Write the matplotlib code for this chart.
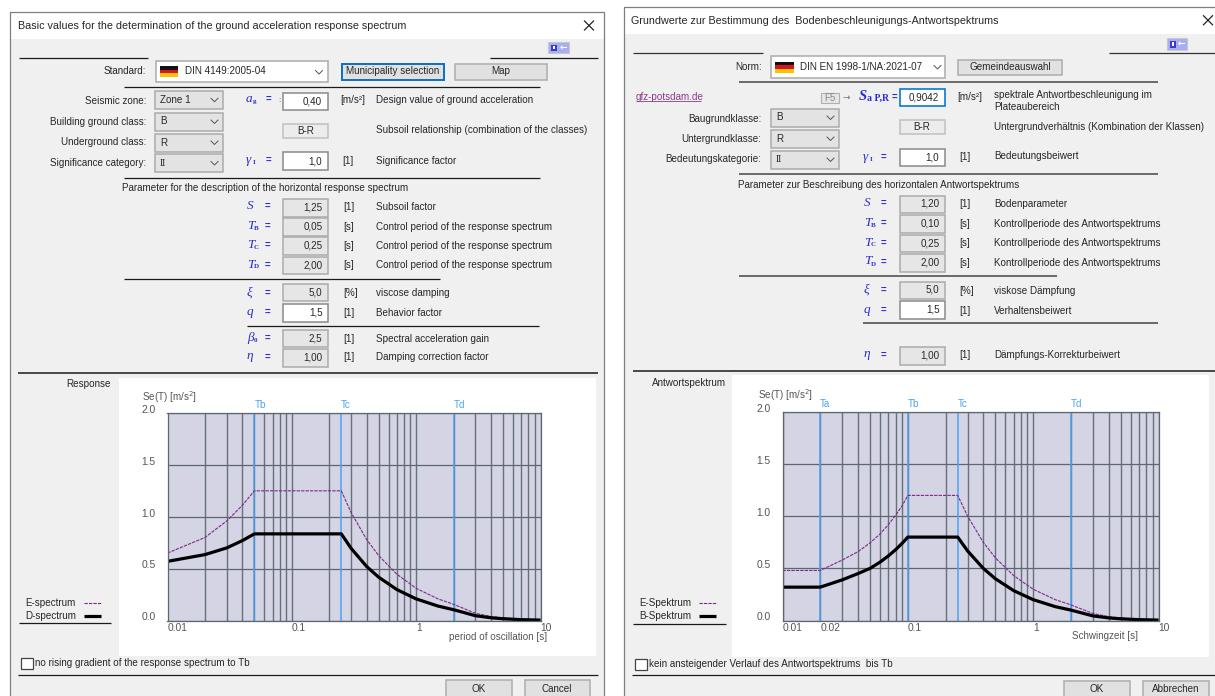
import matplotlib
matplotlib.use('Agg')
import matplotlib.pyplot as plt
from matplotlib.patches import Rectangle
from matplotlib.ticker import LogLocator, NullFormatter
from matplotlib.transforms import ScaledTranslation

# spectrum values
period_left = [0.01, 0.02, 0.03, 0.04, 0.05, 0.25, 0.3, 0.4, 0.5, 0.7, 1, 1.5, 2, 3, 4, 5, 7, 10]
e_left = [0.65, 0.80, 0.96, 1.11, 1.25, 1.25, 1.04, 0.78, 0.625, 0.446, 0.31, 0.208, 0.156, 0.069, 0.039, 0.025, 0.013, 0.006]
d_left = [0.57, 0.635, 0.70, 0.77, 0.835, 0.835, 0.695, 0.52, 0.417, 0.298, 0.208, 0.139, 0.104, 0.046, 0.026, 0.017, 0.008, 0.004]

period_right = [0.01, 0.02, 0.03, 0.04, 0.05, 0.06, 0.07, 0.08, 0.09, 0.1, 0.25, 0.3, 0.4, 0.5, 0.7, 1, 1.5, 2, 3, 4, 5, 7, 10]
e_right = [0.48, 0.48, 0.58, 0.66, 0.745, 0.83, 0.92, 1.01, 1.10, 1.20, 1.20, 1.0, 0.75, 0.60, 0.43, 0.30, 0.20, 0.15, 0.067, 0.0375, 0.024, 0.012, 0.006]
d_right = [0.32, 0.32, 0.39, 0.45, 0.50, 0.56, 0.62, 0.68, 0.74, 0.80, 0.80, 0.667, 0.50, 0.40, 0.286, 0.20, 0.133, 0.10, 0.044, 0.025, 0.016, 0.008, 0.004]

marks_left = {'Tb': 0.05, 'Tc': 0.25, 'Td': 2.0}
marks_right = {'Ta': 0.02, 'Tb': 0.1, 'Tc': 0.25, 'Td': 2.0}
xticks_left = [0.01, 0.1, 1, 10]
xlabels_left = ['0.01', '0.1', '1', '10']
xticks_right = [0.01, 0.02, 0.1, 1, 10]
xlabels_right = ['0.01', '0.02', '0.1', '1', '10']
yticks = [0.0, 0.5, 1.0, 1.5, 2.0]
ylabels = ['0.0', '0.5', '1.0', '1.5', '2.0']

# parameter rows: symbol, subscript, value, unit, description
rows_left = [
    ('S', '', '1,25', '[1]', 'Subsoil factor'),
    ('T', 'B', '0,05', '[s]', 'Control period of the response spectrum'),
    ('T', 'C', '0,25', '[s]', 'Control period of the response spectrum'),
    ('T', 'D', '2,00', '[s]', 'Control period of the response spectrum'),
    ('ξ', '', '5,0', '[%]', 'viscose damping'),
    ('q', '', '1,5', '[1]', 'Behavior factor'),
    ('β', '0', '2,5', '[1]', 'Spectral acceleration gain'),
    ('η', '', '1,00', '[1]', 'Damping correction factor'),
]
rows_right = [
    ('S', '', '1,20', '[1]', 'Bodenparameter'),
    ('T', 'B', '0,10', '[s]', 'Kontrollperiode des Antwortspektrums'),
    ('T', 'C', '0,25', '[s]', 'Kontrollperiode des Antwortspektrums'),
    ('T', 'D', '2,00', '[s]', 'Kontrollperiode des Antwortspektrums'),
    ('ξ', '', '5,0', '[%]', 'viskose Dämpfung'),
    ('q', '', '1,5', '[1]', 'Verhaltensbeiwert'),
    ('η', '', '1,00', '[1]', 'Dämpfungs-Korrekturbeiwert'),
]

W, H = 1215, 696
FONT = 'Liberation Sans'
TXT = '#262626'
BLUE = '#2b2bd0'
GRID = '#5d686e'
VGRID = '#667279'
MARK = '#4aa3f0'
PLOT_BG = '#d4d4e4'
E_COL = '#7d2a86'
DASH = (0, (3, 1))


def label(ui, x, y, s, ha='left', size=7.1, color=TXT, family=FONT, **kw):
    ui.text(x, y, s, ha=ha, va='center', fontsize=size, color=color, family=family, **kw)


def hline(ui, x0, x1, y, lw=0.9, color='#1a1a1a'):
    ui.plot([x0, x1], [y, y], color=color, lw=lw, solid_capstyle='butt')


def box(ui, x0, x1, y0, y1, fc='#e6e6e6', ec='#ababab', lw=1.1):
    ui.add_patch(Rectangle((x0, y0), x1 - x0, y1 - y0, fc=fc, ec=ec, lw=lw))


def combo(ui, x0, x1, y0, y1, s, fc='#e3e3e3', ec='#ababab'):
    box(ui, x0, x1, y0, y1, fc=fc, ec=ec)
    # the roman numeral has serifs in the dialog font
    label(ui, x0 + 5, (y0 + y1) / 2, s, family='Liberation Serif' if s == 'II' else FONT)
    cx, cy = x1 - 8, (y0 + y1) / 2
    ui.plot([cx - 3.5, cx, cx + 3.5], [cy - 1.5, cy + 2, cy - 1.5], color='#555555', lw=0.7)


def button(ui, x0, x1, y0, y1, s, ec='#adadad', lw=1.1):
    box(ui, x0, x1, y0, y1, fc='#e1e1e1', ec=ec, lw=lw)
    label(ui, (x0 + x1) / 2, (y0 + y1) / 2, s, ha='center')


def flag(ui, x0, x1, y0, y1):
    h = (y1 - y0) / 3
    for i, c in enumerate(['#111111', '#d8141c', '#f6c400']):
        ui.add_patch(Rectangle((x0, y0 + i * h), x1 - x0, h, fc=c, ec='none'))


def icon(ui, x0, x1, y0, y1):
    box(ui, x0, x1, y0, y1, fc='#a9aef0', ec='#c8c8c8', lw=0.8)
    ui.add_patch(Rectangle((x0 + 3, y0 + 2.5), 6, y1 - y0 - 5, fc='#3a3ad0', ec='none'))
    ui.add_patch(Rectangle((x0 + 5, y0 + 4), 2, y1 - y0 - 8, fc='white', ec='none'))
    ui.text(x0 + 15, (y0 + y1) / 2, '←', color='white', fontsize=6.5, ha='center', va='center',
            family='DejaVu Sans', fontweight='bold')


def symbol(ui, x, y, s, sub=''):
    ui.text(x, y, s, color=BLUE, fontsize=9.5, style='italic', family='Liberation Serif', ha='left', va='center')
    if sub:
        ui.text(x + 6.5, y + 2.5, sub, color=BLUE, fontsize=5, family='Liberation Serif',
                fontweight='bold', ha='left', va='center')


def param_rows(ui, rows, ys, x_sym, x_eq, bx0, bx1, x_unit, x_desc, white=('q',)):
    for (s, sub, val, unit, desc), (y, y0, y1) in zip(rows, ys):
        symbol(ui, x_sym, y - 1, s, sub)
        label(ui, x_eq, y - 1, '=', color=BLUE, fontweight='bold', size=7)
        if s in white:
            box(ui, bx0, bx1, y0, y1, fc='white', ec='#8a8a8a')
        else:
            box(ui, bx0, bx1, y0, y1)
        label(ui, bx1 - 5, (y0 + y1) / 2, val, ha='right')
        label(ui, x_unit, y, unit)
        label(ui, x_desc, y, desc)


def dialog(ui, x0, x1, y0, ybar, title, x_title, x_close):
    ui.add_patch(Rectangle((x0 + 0.5, y0 + 0.5), x1 - x0 - 1, ybar - y0, fc='white', ec='none', zorder=0.5))
    ui.add_patch(Rectangle((x0, ybar), x1 - x0, H - ybar + 2, fc='#f0f0f0', ec='none', zorder=0.5))
    ui.add_patch(Rectangle((x0, y0), x1 - x0, H - y0 + 2, fc='none', ec='#7f7f7f', lw=0.9, zorder=0.6))
    label(ui, x_title, (y0 + ybar) / 2 + 0.5, title, size=7.75)
    yc = (y0 + ybar) / 2
    ui.plot([x_close - 4.5, x_close + 4.5], [yc - 4.5, yc + 4.5], color='#222222', lw=0.9)
    ui.plot([x_close - 4.5, x_close + 4.5], [yc + 4.5, yc - 4.5], color='#222222', lw=0.9)


def spectrum(fig, box_px, period, e_vals, d_vals, marks, xticks, xlabels):
    x0, x1, top, bottom = box_px
    ax = fig.add_axes([x0 / W, 1 - bottom / H, (x1 - x0) / W, (bottom - top) / H])
    ax.set_facecolor(PLOT_BG)
    ax.set_xscale('log')
    ax.set_xlim(0.01, 10)
    ax.set_ylim(0, 2)
    ax.xaxis.set_minor_locator(LogLocator(base=10, subs=range(2, 10), numticks=12))
    ax.xaxis.set_minor_formatter(NullFormatter())
    ax.set_xticks(xticks, xlabels, ha='left')
    ax.set_yticks(yticks, ylabels)
    ax.tick_params(axis='both', which='both', length=0, labelsize=7.4, labelcolor='#555555')
    ax.tick_params(axis='x', pad=2)
    ax.tick_params(axis='y', pad=8.5)
    ax.grid(True, axis='x', which='both', color=VGRID, lw=1.0)
    ax.grid(True, axis='y', which='major', color=GRID, lw=0.9)
    ax.set_axisbelow(True)
    for sp in ax.spines.values():
        sp.set_color(GRID)
        sp.set_linewidth(0.9)
    for lab in ax.get_yticklabels() + ax.get_xticklabels():
        lab.set_family(FONT)
    for lab in ax.get_yticklabels():
        lab.set_transform(lab.get_transform() + ScaledTranslation(0, 3 / 72, fig.dpi_scale_trans))
    for name, t in marks.items():
        ax.axvline(t, color=MARK, lw=1.1)
        ax.text(t, 1.04, name, transform=ax.get_xaxis_transform(), color=MARK, fontsize=7.1,
                family=FONT, ha='left', va='center')
    ax.plot(period, e_vals, color=E_COL, lw=0.8, ls=DASH)
    ax.plot(period, d_vals, color='black', lw=2.3, solid_joinstyle='round', solid_capstyle='butt')
    return ax


def legend_block(ui, x_right, x0, x1, y_e, y_d, e_name, d_name):
    label(ui, x_right, y_e, e_name, ha='right')
    label(ui, x_right, y_d, d_name, ha='right')
    ui.plot([x0, x1], [y_e, y_e], color=E_COL, lw=0.8, ls=DASH)
    ui.plot([x0, x1], [y_d, y_d], color='black', lw=2.3, solid_capstyle='butt')


def left_dialog(fig, ui):
    dialog(ui, 10, 604, 12, 39, 'Basic values for the determination of the ground acceleration response spectrum', 18, 589)
    icon(ui, 548, 569, 42, 53)
    hline(ui, 19, 148, 57.5)
    hline(ui, 490, 598, 57.5)
    label(ui, 146.5, 71, 'Standard:', ha='right')
    box(ui, 155.5, 327.5, 61, 81.5, fc='white', ec='#ababab')
    flag(ui, 160, 178, 66, 77)
    label(ui, 185, 71.5, 'DIN 4149:2005-04')
    ui.plot([315.5, 319, 322.5], [70.5, 74, 70.5], color='#555555', lw=0.7)
    button(ui, 341.5, 443.5, 63.5, 79.5, 'Municipality selection', ec='#0a6fc2', lw=1.4)
    button(ui, 454.5, 546.5, 63.5, 79.5, 'Map')
    hline(ui, 124, 540, 86.5)
    label(ui, 146.5, 101, 'Seismic zone:', ha='right')
    label(ui, 146.5, 122, 'Building ground class:', ha='right')
    label(ui, 146.5, 142, 'Underground class:', ha='right')
    label(ui, 146.5, 162.5, 'Significance category:', ha='right')
    combo(ui, 155, 222.5, 90.5, 109, 'Zone 1')
    combo(ui, 155, 222.5, 112.5, 130.5, 'B')
    combo(ui, 155, 222.5, 133.5, 151.5, 'R')
    combo(ui, 155, 222.5, 154, 172, 'II')
    symbol(ui, 246, 99, 'a', 'g')
    label(ui, 266, 99, '=', color=BLUE, fontweight='bold', size=7)
    label(ui, 278, 101, ':', color=BLUE, size=6)
    box(ui, 283, 327.5, 92.5, 110, fc='white', ec='#8a8a8a')
    label(ui, 322, 101.5, '0,40', ha='right')
    label(ui, 340.5, 100, '[m/s²]')
    label(ui, 376.5, 100, 'Design value of ground acceleration')
    box(ui, 283, 328, 124, 137.5, fc='#ececec', ec='#c0c0c0')
    label(ui, 305.5, 131, 'B-R', ha='center')
    label(ui, 376.5, 130, 'Subsoil relationship (combination of the classes)')
    symbol(ui, 246, 160, 'γ', 'I')
    label(ui, 266, 159.5, '=', color=BLUE, fontweight='bold', size=7)
    box(ui, 283, 327.5, 152, 169.5, fc='white', ec='#8a8a8a')
    label(ui, 322, 161, '1,0', ha='right')
    label(ui, 342.5, 160.5, '[1]')
    label(ui, 376.5, 160.5, 'Significance factor')
    hline(ui, 124, 540, 177.5)
    label(ui, 122.5, 188, 'Parameter for the description of the horizontal response spectrum')
    ys = [(207, 199, 216.5), (227, 218, 235.5), (246, 237, 254.5), (265.5, 256.5, 274),
          (293.5, 283.5, 301), (312.5, 303.5, 321.5), (338.5, 329.5, 347), (357.5, 348.5, 366.5)]
    param_rows(ui, rows_left, ys, 247, 265, 283, 327.5, 343, 376.5)
    hline(ui, 124, 440, 278.5)
    hline(ui, 246.5, 539, 325.5)
    hline(ui, 18, 598, 372.5, lw=1.1)
    ui.add_patch(Rectangle((118.5, 378), 477.5, 278, fc='white', ec='none'))
    label(ui, 111, 384, 'Response', ha='right')
    label(ui, 142, 397, 'Se(T) [m/s$^2$]', color='#555555')
    legend_block(ui, 76, 84, 101, 603, 616, 'E-spectrum', 'D-spectrum')
    hline(ui, 19, 111, 623)
    label(ui, 547, 636.5, 'period of oscillation [s]', ha='right', color='#555555')
    box(ui, 21, 32.5, 658, 668.5, fc='white', ec='#444444', lw=0.9)
    label(ui, 35, 663, 'no rising gradient of the response spectrum to Tb')
    hline(ui, 18, 598, 674.5)
    button(ui, 446, 511.5, 680, 698, 'OK')
    button(ui, 524.5, 590, 680, 698, 'Cancel')
    spectrum(fig, (167.5, 540.5, 413, 620.5), period_left, e_left, d_left, marks_left, xticks_left, xlabels_left)


def right_dialog(fig, ui):
    dialog(ui, 623.5, 1217, 6.5, 34, 'Grundwerte zur Bestimmung des  Bodenbeschleunigungs-Antwortspektrums', 631, 1208)
    icon(ui, 1166.5, 1187, 38, 50)
    hline(ui, 633, 763, 52.5, color='#333333')
    hline(ui, 1108.5, 1215, 52.5, color='#333333')
    label(ui, 761.5, 66.5, 'Norm:', ha='right')
    box(ui, 771, 944.5, 56, 77.5, fc='white', ec='#ababab')
    flag(ui, 775, 793.5, 61.5, 72.5)
    label(ui, 800.5, 67, 'DIN EN 1998-1/NA:2021-07')
    ui.plot([934, 937.5, 941], [65.5, 69, 65.5], color='#555555', lw=0.7)
    button(ui, 958, 1062, 59.5, 74.5, 'Gemeindeauswahl')
    hline(ui, 739, 1158, 81.5, color='#444444', lw=1.1)
    ui.text(635.5, 96.5, 'gfz-potsdam.de', color='#8a3a8a', fontsize=7.1, family=FONT, va='center', ha='left')
    hline(ui, 635.5, 701, 101, color='#8a3a8a', lw=0.6)
    box(ui, 821, 839, 93, 103, fc='#e6e6e6', ec='#b0b0b0', lw=0.8)
    label(ui, 830, 98, 'F5', ha='center', color='#888888', size=7)
    ui.text(846.5, 97.5, '→', color='#777777', fontsize=6.5, family='DejaVu Sans', ha='center', va='center')
    ui.text(859, 96.5, 'S', color=BLUE, fontsize=10.5, style='italic', fontweight='bold', family='Liberation Serif', va='center')
    ui.text(867, 98, 'a P,R', color=BLUE, fontsize=7, fontweight='bold', family='Liberation Serif', va='center')
    label(ui, 892, 97, '=', color=BLUE, fontweight='bold', size=7)
    box(ui, 899.5, 944.5, 89, 106, fc='white', ec='#0a78d2', lw=1.2)
    label(ui, 939, 97.5, '0,9042', ha='right')
    label(ui, 957.5, 96.5, '[m/s²]')
    label(ui, 994, 95.5, 'spektrale Antwortbeschleunigung im')
    label(ui, 994, 107.5, 'Plateaubereich')
    label(ui, 761.5, 118.5, 'Baugrundklasse:', ha='right')
    label(ui, 761.5, 138.5, 'Untergrundklasse:', ha='right')
    label(ui, 761.5, 159.5, 'Bedeutungskategorie:', ha='right')
    combo(ui, 771, 838.5, 108.5, 126.5, 'B')
    combo(ui, 771, 838.5, 129.5, 147.5, 'R')
    combo(ui, 771, 838.5, 150.5, 168.5, 'II')
    box(ui, 900, 944.5, 120, 133.5, fc='#ececec', ec='#c0c0c0')
    label(ui, 921.5, 127, 'B-R', ha='center')
    label(ui, 994, 126.5, 'Untergrundverhältnis (Kombination der Klassen)')
    symbol(ui, 863, 157, 'γ', 'I')
    label(ui, 881, 156.5, '=', color=BLUE, fontweight='bold', size=7)
    box(ui, 899.5, 944.5, 148.5, 165.5, fc='white', ec='#8a8a8a')
    label(ui, 939, 157, '1,0', ha='right')
    label(ui, 959, 156.5, '[1]')
    label(ui, 994, 156, 'Bedeutungsbeiwert')
    hline(ui, 739, 1158, 173.5, color='#444444', lw=1.1)
    label(ui, 737.5, 184.5, 'Parameter zur Beschreibung des horizontalen Antwortspektrums')
    ys = [(204, 195.5, 212.5), (224, 215, 232.5), (243.5, 234.5, 251.5), (262.5, 253.5, 271.5),
          (291, 281.5, 298.5), (310.5, 301, 318.5), (355.5, 346.5, 364.5)]
    param_rows(ui, rows_right, ys, 864, 881, 899.5, 944.5, 959, 994)
    hline(ui, 739, 1057, 275.5, color='#444444', lw=1.1)
    hline(ui, 862.5, 1157.5, 323, color='#444444', lw=1.1)
    hline(ui, 632.5, 1215, 370.5, lw=1.1)
    ui.add_patch(Rectangle((732, 375), 477, 282, fc='white', ec='none'))
    label(ui, 726, 382.5, 'Antwortspektrum', ha='right')
    label(ui, 757.5, 395.5, 'Se(T) [m/s$^2$]', color='#555555')
    legend_block(ui, 691, 699, 716, 603, 616, 'E-Spektrum', 'B-Spektrum')
    hline(ui, 632.5, 725.5, 623.5)
    label(ui, 1071.5, 636, 'Schwingzeit [s]', color='#555555')
    box(ui, 635, 647, 658.5, 669.5, fc='white', ec='#444444', lw=0.9)
    label(ui, 649, 664, 'kein ansteigender Verlauf des Antwortspektrums  bis Tb')
    hline(ui, 632, 1215, 675)
    button(ui, 1064, 1130, 680.5, 698, 'OK')
    button(ui, 1143, 1209, 680.5, 698, 'Abbrechen')
    spectrum(fig, (782.5, 1158.5, 412, 620.5), period_right, e_right, d_right, marks_right, xticks_right, xlabels_right)


def main():
    fig = plt.figure(figsize=(W / 100, H / 100), dpi=100, facecolor='white')
    ui = fig.add_axes([0, 0, 1, 1])
    ui.set_xlim(0, W)
    ui.set_ylim(H, 0)
    ui.axis('off')
    left_dialog(fig, ui)
    right_dialog(fig, ui)
    fig.savefig('out.png', dpi=100)


if __name__ == '__main__':
    main()
